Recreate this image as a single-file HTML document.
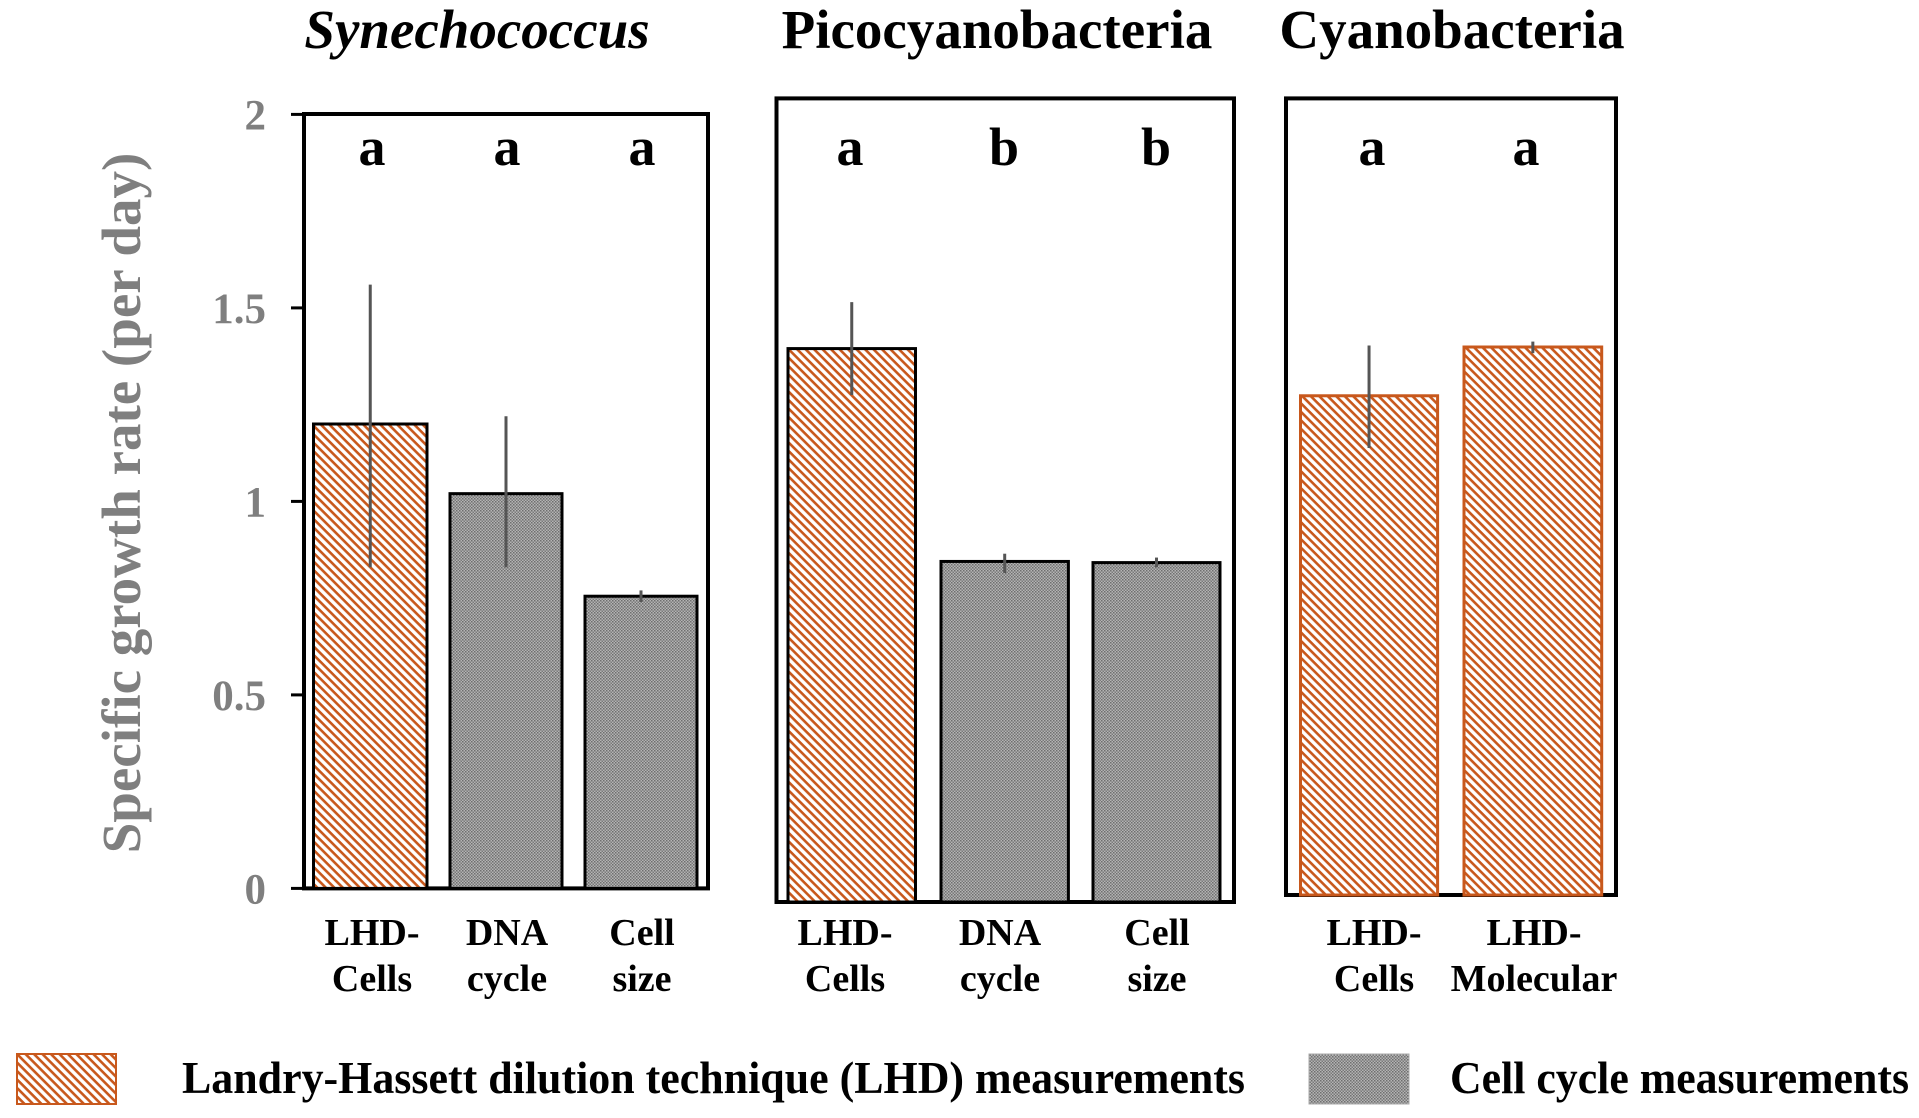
<!DOCTYPE html>
<html><head><meta charset="utf-8"><style>
html,body{margin:0;padding:0;background:#fff;}
svg{display:block;font-family:"Liberation Serif",serif;font-weight:bold;}
</style></head><body>
<svg id="chart" width="1919" height="1118" viewBox="0 0 1919 1118">
<defs>
<pattern id="hatch" patternUnits="userSpaceOnUse" width="6" height="6" patternTransform="rotate(45)">
<rect width="6" height="6" fill="#fff"/><rect x="0" y="0" width="6" height="2.6" fill="#c8581c"/>
</pattern>
<pattern id="dots" patternUnits="userSpaceOnUse" width="3" height="3">
<rect width="3" height="3" fill="#b4b4b4"/><rect width="1.5" height="1.5" fill="#6e6e6e"/><rect x="1.5" y="1.5" width="1.5" height="1.5" fill="#7a7a7a"/>
</pattern>
</defs>
<g id="plot"></g>
<text x="140" y="503" transform="rotate(-90 140 503)" text-anchor="middle" font-size="55" fill="#7f7f7f">Specific growth rate (per day)</text>
<rect x="17" y="1054" width="99" height="50" fill="url(#hatch)" stroke="#c8581c" stroke-width="2"/>
<text x="182" y="1093" font-size="46" textLength="1063" lengthAdjust="spacingAndGlyphs">Landry-Hassett dilution technique (LHD) measurements</text>
<rect x="1309" y="1054" width="100" height="50" fill="url(#dots)" stroke="#aaa" stroke-width="1"/>
<text x="1450" y="1093" font-size="46" textLength="459" lengthAdjust="spacingAndGlyphs">Cell cycle measurements</text>
</svg>
<script>
const panelTitles = ["Synechococcus", "Picocyanobacteria", "Cyanobacteria"];
const categories = [["LHD-|Cells","DNA|cycle","Cell|size"],["LHD-|Cells","DNA|cycle","Cell|size"],["LHD-|Cells","LHD-|Molecular"]];
const values = [[1.20, 1.02, 0.755],[1.43, 0.88, 0.877],[1.29, 1.416]];
const errLow = [[0.83, 0.83, 0.74],[1.31, 0.85, 0.865],[1.155, 1.40]];
const errHigh = [[1.56, 1.22, 0.77],[1.55, 0.90, 0.89],[1.42, 1.43]];
const kinds = [["lhd","cc","cc"],["lhd","cc","cc"],["lhd","lhd"]];
const letters = [["a","a","a"],["a","b","b"],["a","a"]];
const yTicks = [0, 0.5, 1, 1.5, 2];

const NS = "http://www.w3.org/2000/svg";
const g = document.getElementById("plot");
const panels = [
  {x0:304, x1:708, top:114, base:888.4, bars:[[313.5,427],[450,562],[585,697]], lx:[372,507,642], tx:477},
  {x0:776.5, x1:1234, top:98.4, base:902, bars:[[788,915.5],[941,1068.4],[1093,1220]], lx:[850,1004,1156], cx:[845,1000,1157], tx:997},
  {x0:1286, x1:1616, top:98.4, base:895, bars:[[1300.5,1437.6],[1464,1601.7]], lx:[1372,1526], cx:[1374,1534], tx:1452}
];
const SCALE = 387;
function yPos(p, v){ return p.base - v*SCALE; }
function el(tag, attrs, parent){ const e=document.createElementNS(NS,tag); for(const k in attrs) e.setAttribute(k, attrs[k]); (parent||g).appendChild(e); return e; }

const p0 = panels[0];
yTicks.forEach(t => {
  const y = yPos(p0, t);
  const ln = el("line",{x1:291,x2:304,y1:y,y2:y,stroke:"#000","stroke-width":3});
  
  
  const tx = el("text",{x:266,y:y+15,"text-anchor":"end","font-size":43,fill:"#7f7f7f"});
  tx.textContent = String(t);
  
  
});

panels.forEach((p, i) => {
  const fr = el("rect",{x:p.x0,y:p.top,width:p.x1-p.x0,height:p.base-p.top,fill:"none",stroke:"#000","stroke-width":4});
  
  
  const tt = el("text",{x:p.tx,y:48,"text-anchor":"middle","font-size":55});
  if(i===0) tt.setAttribute("font-style","italic");
  tt.textContent = panelTitles[i];
  
  
  values[i].forEach((v, j) => {
    const [bx0,bx1] = p.bars[j];
    const lhd = kinds[i][j] === "lhd";
    const stroke = (i===2) ? "#c8581c" : "#000";
    const bar = el("rect",{x:bx0,y:yPos(p,v),width:bx1-bx0,height:v*SCALE,fill:lhd?"url(#hatch)":"url(#dots)",stroke:stroke,"stroke-width":3});
    
    
    const cx = (bx0+bx1)/2;
    const eb = el("line",{x1:cx,x2:cx,y1:yPos(p,errHigh[i][j]),y2:yPos(p,errLow[i][j]),stroke:"#555","stroke-width":3});
    
    
    const lt = el("text",{x:p.lx[j],y:165,"text-anchor":"middle","font-size":54});
    lt.textContent = letters[i][j];
    
    
    const lx = p.cx ? p.cx[j] : p.lx[j];
    const parts = categories[i][j].split("|");
    parts.forEach((s, k) => {
      const c = el("text",{x:lx,y:945+k*46,"text-anchor":"middle","font-size":38});
      c.textContent = s;
      
      
    });
  });
});
</script>
</body></html>
